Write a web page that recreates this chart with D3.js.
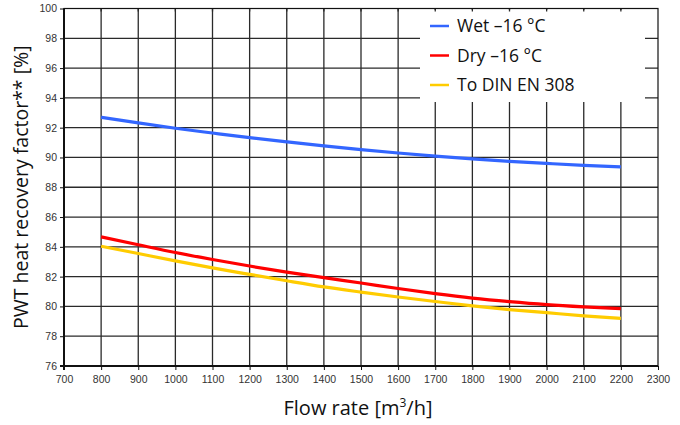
<!DOCTYPE html>
<html>
<head>
<meta charset="utf-8">
<script src="https://cdn.jsdelivr.net/npm/d3@7"></script>
<style>
  html, body { margin: 0; padding: 0; background: #fff; }
  svg { display: block; }
</style>
</head>
<body>
<svg id="chart" width="680" height="425"></svg>
<script>
// Flow rates (m³/h) at which the recovery factor is plotted
const flowRates = [800, 900, 1000, 1100, 1200, 1300, 1400, 1500, 1600, 1700, 1800, 1900, 2000, 2100, 2200];

// Heat recovery factor [%] per condition
const wetValues = [92.7, 92.32, 91.96, 91.64, 91.33, 91.05, 90.78, 90.53, 90.3, 90.09, 89.9, 89.74, 89.6, 89.47, 89.37];
const dryValues = [84.67, 84.14, 83.62, 83.15, 82.71, 82.3, 81.93, 81.57, 81.2, 80.86, 80.56, 80.32, 80.12, 79.97, 79.85];
const dinValues = [84.04, 83.55, 83.06, 82.59, 82.15, 81.72, 81.31, 80.96, 80.63, 80.33, 80.04, 79.79, 79.58, 79.37, 79.2];

const seriesNames = ["Wet \u201316 \u00B0C", "Dry \u201316 \u00B0C", "To DIN EN 308"];
const seriesColors = ["#3366ff", "#ff0000", "#ffcc00"];

// Axis ticks
const xTicks = d3.range(700, 2301, 100);
const yTicks = d3.range(76, 101, 2);

const svg = d3.select("#chart");
const margin = { left: 64, right: 22, top: 8.5, bottom: 59 };
const W = 680, H = 425;

const x = d3.scaleLinear().domain([700, 2300]).range([margin.left, W - margin.right]);
const y = d3.scaleLinear().domain([76, 100]).range([H - margin.bottom, margin.top]);

const tickFont = "'Liberation Sans', Arial, sans-serif";
const titleFont = "'Open Sans', 'DejaVu Sans', sans-serif";

// Grid
const grid = svg.append("g");
grid.selectAll("line.v").data(xTicks.slice(1, -1)).join("line")
  .attr("x1", d => x(d)).attr("x2", d => x(d))
  .attr("y1", y(100)).attr("y2", y(76))
  .attr("stroke", "#2a2a2a").attr("stroke-width", 1.3);
grid.selectAll("line.h").data(yTicks.slice(1, -1)).join("line")
  .attr("x1", x(700)).attr("x2", x(2300))
  .attr("y1", d => y(d)).attr("y2", d => y(d))
  .attr("stroke", "#2a2a2a").attr("stroke-width", 1.3);

// Series lines
const series = [wetValues, dryValues, dinValues];
const line = d3.line().x((d, i) => x(flowRates[i])).y(d => y(d)).curve(d3.curveMonotoneX);
svg.append("g").selectAll("path").data(series).join("path")
  .attr("d", d => line(d))
  .attr("fill", "none")
  .attr("stroke", (d, i) => seriesColors[i])
  .attr("stroke-width", 3.2);

// Legend box (covers the grid behind it)
const lg = svg.append("g");
lg.append("rect")
  .attr("x", 420).attr("y", y(100) + 1.5)
  .attr("width", 225).attr("height", 92)
  .attr("fill", "#fff");
// short tick stubs along the top edge, visible over the legend
lg.selectAll("line.stub").data(xTicks.slice(1, -1)).join("line")
  .attr("x1", d => x(d)).attr("x2", d => x(d))
  .attr("y1", y(100)).attr("y2", y(100) + 3)
  .attr("stroke", "#2a2a2a").attr("stroke-width", 1.3);
const legendRows = lg.selectAll("g.row").data(seriesNames).join("g")
  .attr("transform", (d, i) => `translate(430, ${26 + i * 29.5})`);
legendRows.append("line")
  .attr("x1", 0).attr("x2", 19).attr("y1", 0).attr("y2", 0)
  .attr("stroke", (d, i) => seriesColors[i]).attr("stroke-width", 2.5);
legendRows.append("text")
  .attr("x", 27).attr("y", 0).attr("dy", "0.35em")
  .attr("font-family", titleFont).attr("font-size", 17.5)
  .attr("fill", "#111")
  .text(d => d);

// Frame
svg.append("rect")
  .attr("x", x(700)).attr("y", y(100))
  .attr("width", x(2300) - x(700)).attr("height", y(76) - y(100))
  .attr("fill", "none").attr("stroke", "#111").attr("stroke-width", 1.2);
svg.append("line")
  .attr("x1", x(700)).attr("x2", x(700)).attr("y1", y(100)).attr("y2", y(76) + 4)
  .attr("stroke", "#111").attr("stroke-width", 2);
svg.append("line")
  .attr("x1", x(700) - 4).attr("x2", x(2300)).attr("y1", y(76)).attr("y2", y(76))
  .attr("stroke", "#111").attr("stroke-width", 2);

// Axes
const xAxis = d3.axisBottom(x).tickValues(xTicks).tickFormat(d3.format("d")).tickSize(4).tickPadding(6);
const gx = svg.append("g").attr("transform", `translate(0,${y(76)})`).call(xAxis);
gx.select(".domain").remove();
gx.selectAll(".tick line").attr("stroke", "#111");
gx.selectAll(".tick text").attr("font-family", tickFont).attr("font-size", 10.5).attr("fill", "#333");

const yAxis = d3.axisLeft(y).tickValues(yTicks).tickFormat(d3.format("d")).tickSize(4).tickPadding(3);
const gy = svg.append("g").attr("transform", `translate(${x(700)},0)`).call(yAxis);
gy.select(".domain").remove();
gy.selectAll(".tick line").attr("stroke", "#111");
gy.selectAll(".tick text").attr("font-family", tickFont).attr("font-size", 10.5).attr("fill", "#333");

// Axis titles
const xt = svg.append("text")
  .attr("x", 358).attr("y", 415)
  .attr("text-anchor", "middle")
  .attr("font-family", titleFont).attr("font-size", 20).attr("fill", "#111");
xt.append("tspan").text("Flow rate [m");
xt.append("tspan").attr("font-size", 12).attr("dy", -8).text("3");
xt.append("tspan").attr("dy", 8).text("/h]");

svg.append("text")
  .attr("transform", `translate(28, ${(y(100) + y(76)) / 2}) rotate(-90)`)
  .attr("text-anchor", "middle")
  .attr("font-family", titleFont).attr("font-size", 19.5).attr("fill", "#111")
  .text("PWT heat recovery factor** [%]");
</script>
</body>
</html>
